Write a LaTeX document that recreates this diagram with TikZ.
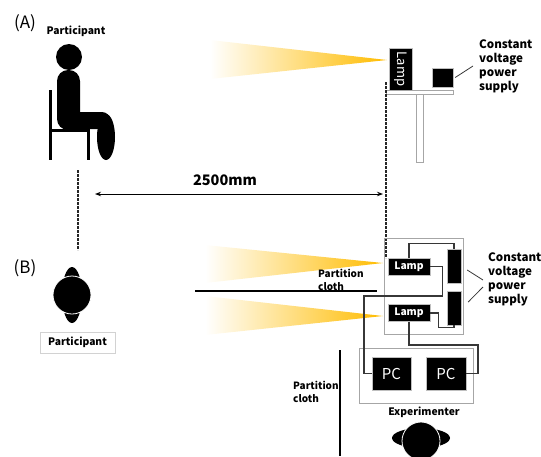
\documentclass[tikz,border=0pt]{standalone}
\usepackage{fontspec}
\setmainfont{Noto Sans CJK JP}
\usetikzlibrary{arrows.meta}

\definecolor{beamcol}{RGB}{255,188,0}
\definecolor{wirecol}{RGB}{55,55,55}

\begin{document}
\begin{tikzpicture}[
    x=1pt, y=-1pt,
    font=\bfseries\fontsize{10.3}{11}\selectfont,
    blackbox/.style={draw=gray!50, fill=black, text=white, inner sep=0pt},
    frame/.style={draw=gray!70, line width=0.8pt},
    wire/.style={draw=wirecol, line width=1.2pt},
    leader/.style={draw=wirecol, line width=0.8pt},
    beam/.style={left color=white, right color=beamcol},
    guide/.style={draw=black!85, line width=1.4pt, dash pattern=on 2.6pt off 1.4pt},
    cloth/.style={draw=black, line width=2.2pt},
    dimarrow/.style={{Stealth[length=6pt,width=4.5pt]}-{Stealth[length=6pt,width=4.5pt]}, line width=1pt},
    tag/.style={font=\mdseries\fontsize{17}{17}\selectfont},
    note/.style={align=left, anchor=west, inner sep=0pt, font=\bfseries\fontsize{10}{13}\selectfont},
    pslabel/.style={font=\bfseries\fontsize{11.6}{14}\selectfont, align=left, anchor=west, inner sep=0pt},
  ]
  \useasboundingbox (0,0) rectangle (541,456);

  % (A): side view
  \node[tag] (tagA) at (25,23) {(A)};
  \node (partA) at (76,31) {Participant};
  \fill (69,57) circle (13);
  \fill[rounded corners=11] (57,70) rectangle (80,130);
  \fill[rounded corners=8] (62,112) rectangle (110,129);
  \fill (106,137) ellipse [x radius=9, y radius=23];
  \draw[line width=3pt] (50,90) -- (50,160) (50,130) -- (88,130) -- (88,160);

  \shade[beam] (210,40) -- (387,60) -- (210,79) -- cycle;
  \node[blackbox, rotate=-90, minimum width=42, minimum height=23,
        font=\mdseries\fontsize{13}{13}\selectfont] (lampA) at (400.5,69) {Lamp};
  \draw[frame, fill=white] (386,90) rectangle (453,94);
  \draw[frame, fill=white] (416,94) rectangle (423,162);
  \node[blackbox, minimum width=21, minimum height=19] (psA) at (442.5,77.5) {};
  \node[pslabel] (psAtext) at (479,66) {Constant\\voltage\\power\\supply};
  \draw[leader] ([xshift=2pt]psA.east) -- ([xshift=-6pt]psAtext.west);

  % distance
  \coordinate (seatA) at (78,170);
  \coordinate (seatB) at (78,250);
  \coordinate (lampTop) at (386,82);
  \coordinate (lampBot) at (386,258);
  \coordinate (dimL) at (95,194);
  \coordinate (dimR) at (383,194);
  \draw[guide] (seatA) -- (seatB);
  \draw[guide] (lampTop) -- (lampBot);
  \draw[dimarrow] (dimL) -- (dimR);
  \node[font=\bfseries\fontsize{14.5}{14.5}\selectfont] (dist) at (225,180.5) {2500mm};

  % (B): top view
  \node[tag] (tagB) at (25,268) {(B)};
  \fill (72,295) ellipse [x radius=10, y radius=28];
  \fill[draw=white, line width=0.8pt] (72,295) circle (19);
  \node[draw=gray!35, minimum width=75, minimum height=21] (partB) at (77.5,342.5) {Participant};

  \shade[beam] (205,245) -- (383,263) -- (205,283) -- cycle;
  \shade[beam] (205,296) -- (383,316) -- (205,335) -- cycle;
  \coordinate (clothL) at (195,291);
  \coordinate (clothR) at (377,291);
  \draw[cloth] (clothL) -- (clothR);
  \node[note] (clothAtext) at (318,279.5) {Partition\\cloth};

  \node[frame, minimum width=79, minimum height=96] (lampbay) at (423.5,286) {};
  \node[blackbox, minimum width=42, minimum height=17] (lamp1) at (409,266.5) {Lamp};
  \node[blackbox, minimum width=42, minimum height=17] (lamp2) at (409,313) {Lamp};
  \node[blackbox, minimum width=14, minimum height=34] (ps1) at (454,266) {};
  \node[blackbox, minimum width=14, minimum height=34] (ps2) at (454,308) {};
  \node[pslabel] (psBtext) at (488,279) {Constant\\voltage\\power\\supply};
  \draw[leader] ([xshift=6pt,yshift=-4pt]ps1.east) -- ([xshift=-5pt,yshift=-1pt]psBtext.west);
  \draw[leader] ([xshift=7pt,yshift=6pt]ps2.east) -- ([xshift=-5pt,yshift=-8pt]psBtext.west);

  \node[frame, minimum width=114, minimum height=55] (desk) at (416,375.5) {};
  \node[blackbox, minimum width=39, minimum height=33,
        font=\mdseries\fontsize{15}{15}\selectfont] (pc1) at (391.5,373.5) {PC};
  \node[blackbox, minimum width=40, minimum height=33,
        font=\mdseries\fontsize{15}{15}\selectfont] (pc2) at (446,373.5) {PC};

  % wiring
  \draw[wire] (lamp1.north) -- ++(0,-14) -| (ps1.north);
  \draw[wire] (lamp1.east) -- ++(12,0) |- (364,296) |- (pc1.west);
  \draw[wire] (ps2.south) -- ++(0,2) -| ([xshift=8pt]lamp2.east) -- (lamp2.east);
  \draw[wire] (lamp2.south) |- (478,345) |- (pc2.east);

  \coordinate (cloth2T) at (340,350);
  \coordinate (cloth2B) at (340,456);
  \draw[cloth, line width=1.8pt] (cloth2T) -- (cloth2B);
  \node[note] (clothBtext) at (293,391.5) {Partition\\cloth};

  \node (expr) at (424,412) {Experimenter};
  \fill (421,438) ellipse [x radius=29, y radius=10];
  \fill[draw=white, line width=0.8pt] (421,441) circle (19);
\end{tikzpicture}
\end{document}
